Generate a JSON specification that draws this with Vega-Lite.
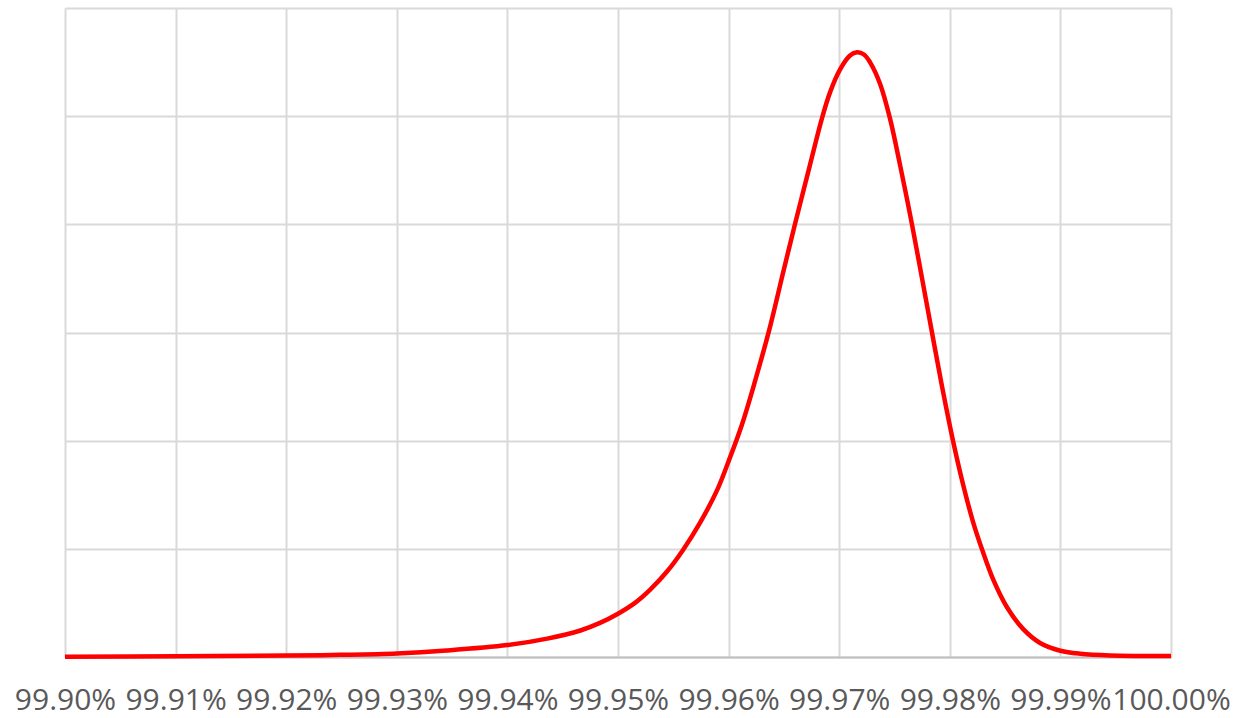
{
  "$schema": "https://vega.github.io/schema/vega-lite/v6.json",
  "width": 1106,
  "height": 649,
  "autosize": {"type": "none"},
  "padding": {"left": 65, "top": 8, "right": 67, "bottom": 61},
  "background": "#ffffff",
  "config": {"view": {"stroke": null}},
  "data": {"values": [
    {"x": 0.999, "y": 0.003},
    {"x": 0.9991, "y": 0.007},
    {"x": 0.9992, "y": 0.013},
    {"x": 0.999249, "y": 0.02},
    {"x": 0.9993, "y": 0.033},
    {"x": 0.999345, "y": 0.06},
    {"x": 0.9994, "y": 0.11},
    {"x": 0.999436, "y": 0.17},
    {"x": 0.999466, "y": 0.245},
    {"x": 0.9994837, "y": 0.315},
    {"x": 0.9995, "y": 0.4},
    {"x": 0.9995154, "y": 0.5},
    {"x": 0.9995289, "y": 0.62},
    {"x": 0.9995443, "y": 0.79},
    {"x": 0.9995588, "y": 0.99},
    {"x": 0.9995741, "y": 1.24},
    {"x": 0.9995895, "y": 1.54},
    {"x": 0.9996, "y": 1.81},
    {"x": 0.9996121, "y": 2.15},
    {"x": 0.9996239, "y": 2.55},
    {"x": 0.9996374, "y": 3.05},
    {"x": 0.9996492, "y": 3.55},
    {"x": 0.99966, "y": 4.0},
    {"x": 0.9996736, "y": 4.55},
    {"x": 0.9996844, "y": 4.98},
    {"x": 0.9996917, "y": 5.22},
    {"x": 0.9997007, "y": 5.43},
    {"x": 0.9997098, "y": 5.56},
    {"x": 0.9997161, "y": 5.59},
    {"x": 0.9997224, "y": 5.57},
    {"x": 0.9997278, "y": 5.5},
    {"x": 0.9997369, "y": 5.3},
    {"x": 0.9997459, "y": 4.98},
    {"x": 0.999755, "y": 4.55},
    {"x": 0.9997658, "y": 4.0},
    {"x": 0.9997749, "y": 3.5},
    {"x": 0.9997839, "y": 3.0},
    {"x": 0.999793, "y": 2.5},
    {"x": 0.9998029, "y": 2.0},
    {"x": 0.9998119, "y": 1.6},
    {"x": 0.999821, "y": 1.25},
    {"x": 0.99983, "y": 0.97},
    {"x": 0.9998391, "y": 0.72},
    {"x": 0.9998517, "y": 0.46},
    {"x": 0.9998662, "y": 0.26},
    {"x": 0.9998816, "y": 0.13},
    {"x": 0.9999, "y": 0.058},
    {"x": 0.999918, "y": 0.03},
    {"x": 0.999945, "y": 0.015},
    {"x": 1.0, "y": 0.01}
  ]},
  "mark": {"type": "line", "color": "#ff0000", "strokeWidth": 4.5, "interpolate": "catmull-rom", "clip": false},
  "encoding": {
    "x": {
      "field": "x",
      "type": "quantitative",
      "scale": {"domain": [0.999, 1.0], "nice": false, "zero": false},
      "axis": {
        "title": null,
        "values": [0.999, 0.9991, 0.9992, 0.9993, 0.9994, 0.9995, 0.9996, 0.9997, 0.9998, 0.9999, 1.0],
        "format": ".2%",
        "grid": true,
        "gridColor": "#d9d9d9",
        "gridWidth": 2,
        "domain": true,
        "domainColor": "#bfbfbf",
        "domainWidth": 2,
        "ticks": false,
        "labelFont": "Open Sans",
        "labelFontSize": 30,
        "labelColor": "#595959",
        "labelPadding": 28,
        "labelFlush": false,
        "labelOverlap": false
      }
    },
    "y": {
      "field": "y",
      "type": "quantitative",
      "scale": {"domain": [0, 6], "nice": false},
      "axis": {
        "title": null,
        "values": [0, 1, 2, 3, 4, 5, 6],
        "labels": false,
        "ticks": false,
        "domain": false,
        "grid": true,
        "gridColor": "#d9d9d9",
        "gridWidth": 2
      }
    }
  }
}
